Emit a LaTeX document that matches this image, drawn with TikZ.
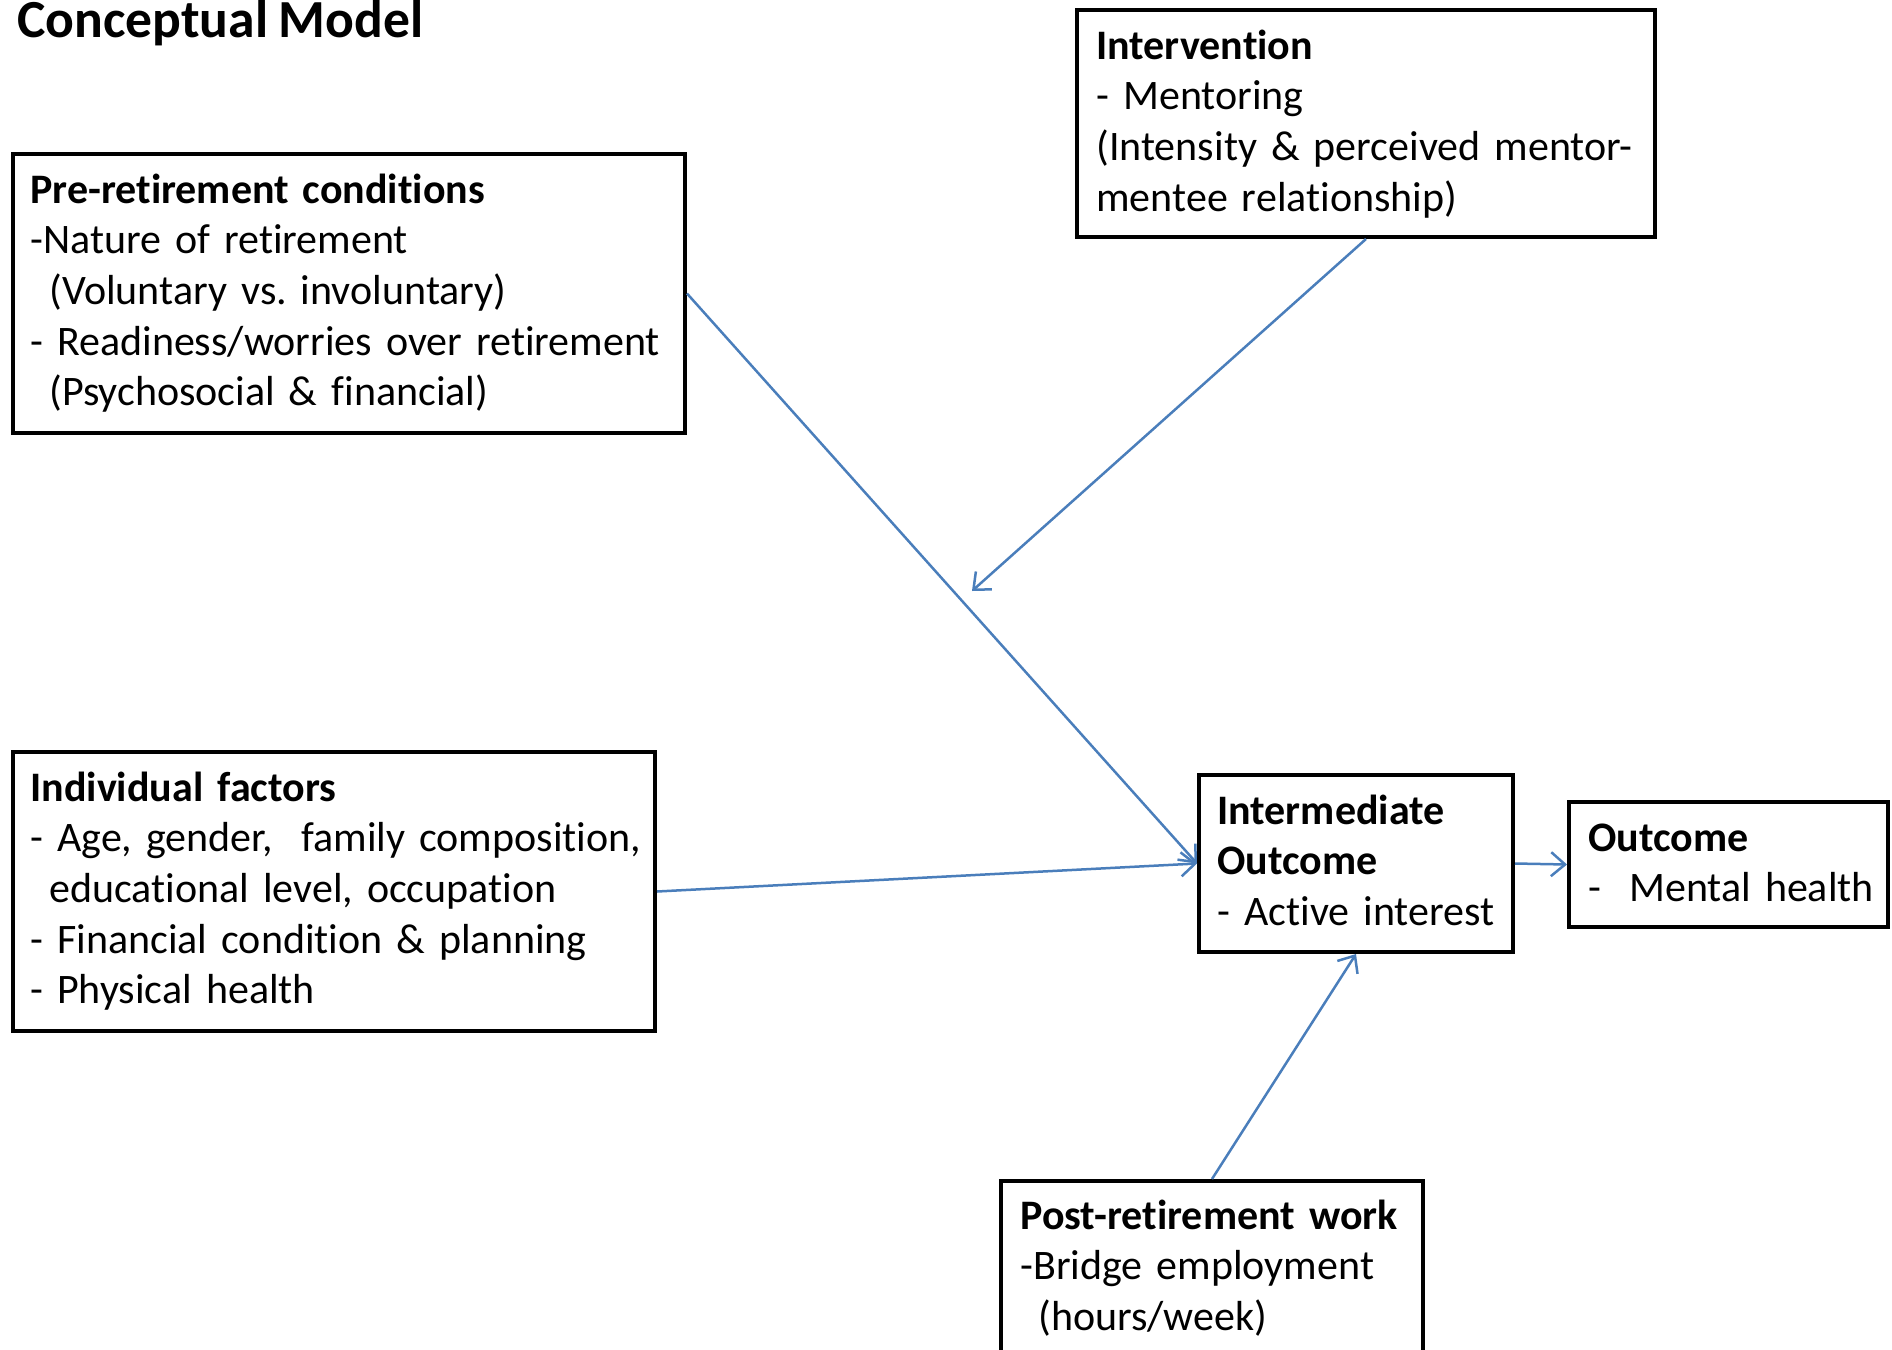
\documentclass[tikz,border=0pt]{standalone}
\usepackage{fontspec}
\setmainfont{Carlito}[Ligatures=NoCommon, WordSpace=0.85]
\usetikzlibrary{arrows.meta}
\definecolor{arrowblue}{RGB}{74,126,187}
\frenchspacing
\begin{document}
\begin{tikzpicture}[x=0.5pt,y=-0.5pt,
  box/.style={draw, line width=2pt, anchor=north west, inner sep=0pt},
  txt/.style={anchor=base west, inner sep=0pt, align=left, text width=420pt,
              font=\fontsize{21}{25.35}\selectfont},
  conn/.style={draw=arrowblue, line width=1.25pt, -{Straight Barb[length=7pt,width=12pt]}}]
\useasboundingbox (0,0) rectangle (1892,1350);

% title
\node[anchor=base west, inner sep=0pt, font=\fontsize{26.8}{30}\selectfont\bfseries] (title) at (17,37) {Conceptual Model};

% boxes
\node[box, minimum width=336pt, minimum height=139.5pt] (pre) at (11,152) {};
\node[box, minimum width=289pt, minimum height=113.5pt] (interv) at (1075,8) {};
\node[box, minimum width=321pt, minimum height=139.5pt] (indiv) at (11,750) {};
\node[box, minimum width=157pt, minimum height=88.5pt] (inter) at (1197,773) {};
\node[box, minimum width=159.5pt, minimum height=62.5pt] (outcome) at (1567,800) {};
\node[box, minimum width=211pt, minimum height=100pt] (post) at (999,1179) {};

% texts
\node[txt] (pretxt) at (30,203) {\textbf{Pre-retirement conditions}\\
-Nature of retirement\\
\hspace*{9.5pt}(Voluntary vs. involuntary)\\
- Readiness/worries over retirement\\
\hspace*{9.5pt}(Psychosocial \& financial)};

\node[txt] (intervtxt) at (1096,59) {\textbf{Intervention}\\
- Mentoring\\
(Intensity \& perceived mentor-\\
mentee relationship)};

\node[txt] (indivtxt) at (30,801) {\textbf{Individual factors}\\
- Age, gender, \ family composition,\\
\hspace*{9.5pt}educational level, occupation\\
- Financial condition \& planning\\
- Physical health};

\node[txt] (intertxt) at (1217,824) {\textbf{Intermediate}\\
\textbf{Outcome}\\
- Active interest};

\node[txt] (outcometxt) at (1588,851) {\textbf{Outcome}\\
- \ Mental health};

\node[txt] (posttxt) at (1020,1229) {\textbf{Post-retirement work}\\
-Bridge employment\\
\hspace*{9pt}(hours/week)};

% connectors
\coordinate (mod) at (972,591);
\draw[conn] (pre.east) -- (inter.west);
\draw[conn] (indiv.east) -- (inter.west);
\draw[conn] (inter.east) -- (outcome.west);
\draw[conn] (post.north) -- (inter.south);
\draw[conn] (interv.south) -- (mod);
\end{tikzpicture}
\end{document}
